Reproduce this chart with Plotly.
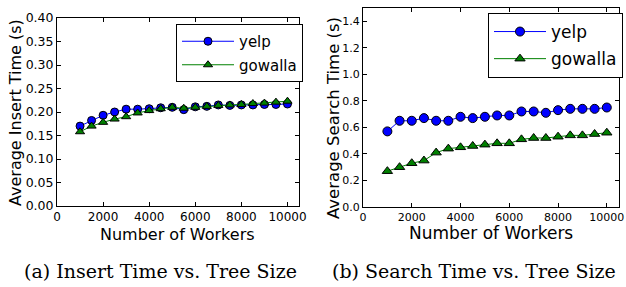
import plotly.graph_objects as go

workers = [1000, 1500, 2000, 2500, 3000, 3500, 4000, 4500, 5000, 5500,
           6000, 6500, 7000, 7500, 8000, 8500, 9000, 9500, 10000]

insert_yelp = [0.170, 0.182, 0.193, 0.200, 0.206, 0.206, 0.207, 0.209, 0.210, 0.205,
               0.211, 0.212, 0.215, 0.214, 0.215, 0.215, 0.216, 0.216, 0.217]
insert_gowalla = [0.158, 0.170, 0.178, 0.185, 0.190, 0.198, 0.203, 0.207, 0.210, 0.208,
                  0.210, 0.212, 0.214, 0.215, 0.216, 0.218, 0.219, 0.221, 0.223]

search_yelp = [0.57, 0.65, 0.65, 0.67, 0.65, 0.65, 0.68, 0.67, 0.68, 0.69,
               0.69, 0.72, 0.72, 0.71, 0.73, 0.74, 0.74, 0.74, 0.75]
search_gowalla = [0.27, 0.30, 0.33, 0.35, 0.41, 0.44, 0.45, 0.46, 0.47, 0.48,
                  0.48, 0.51, 0.52, 0.52, 0.53, 0.54, 0.54, 0.55, 0.56]

x_ticks = [0, 2000, 4000, 6000, 8000, 10000]
insert_ticks = [0.00, 0.05, 0.10, 0.15, 0.20, 0.25, 0.30, 0.35, 0.40]
search_ticks = [0.0, 0.2, 0.4, 0.6, 0.8, 1.0, 1.2, 1.4]
x_title = "Number of Workers"
y_titles = ["Average Insert Time (s)", "Average Search Time (s)"]
captions = ["(a) Insert Time vs. Tree Size", "(b) Search Time vs. Tree Size"]

BLUE = "#0000ff"
GREEN = "#008000"
FONT = "DejaVu Sans"

W, H = 626, 287


def fx(p):
    return p / W


def fy(p):
    return 1 - p / H


fig = go.Figure()


def add_series(x, y, name, color, symbol, xa, ya, legend, size):
    fig.add_trace(go.Scatter(
        x=x, y=y, name=name, mode="lines+markers",
        line=dict(color=color, width=1),
        marker=dict(symbol=symbol, size=size, color=color,
                    line=dict(color="black", width=1)),
        xaxis=xa, yaxis=ya, legend=legend, legendgroup=legend + name))


add_series(workers, insert_yelp, "yelp", BLUE, "circle", "x", "y", "legend", 8)
add_series(workers, insert_gowalla, "gowalla", GREEN, "triangle-up", "x", "y", "legend", 8)
add_series(workers, search_yelp, "yelp", BLUE, "circle", "x2", "y2", "legend2", 9)
add_series(workers, search_gowalla, "gowalla", GREEN, "triangle-up", "x2", "y2", "legend2", 9)

axis_common = dict(showline=True, linecolor="black", linewidth=1, mirror="ticks",
                   ticks="inside", ticklen=4, tickcolor="black", showgrid=False,
                   zeroline=False, automargin=False)

fig.update_layout(
    width=W, height=H,
    margin=dict(l=0, r=0, t=0, b=0, autoexpand=False),
    paper_bgcolor="white", plot_bgcolor="white",
    font=dict(family=FONT, color="black"),
    xaxis=dict(domain=[fx(57), fx(299)], range=[0, 10500], tickvals=x_ticks,
               ticktext=[str(v) for v in x_ticks], anchor="y",
               tickfont=dict(size=12), **axis_common),
    yaxis=dict(domain=[fy(206), fy(18)], range=[0, 0.40], tickvals=insert_ticks,
               ticktext=[f"{v:.2f}" for v in insert_ticks], anchor="x",
               tickfont=dict(size=12.5), **axis_common),
    xaxis2=dict(domain=[fx(363), fx(619)], range=[0, 10500], tickvals=x_ticks,
                ticktext=[str(v) for v in x_ticks], anchor="y2",
                tickfont=dict(size=11), **axis_common),
    yaxis2=dict(domain=[fy(207), fy(8)], range=[0, 1.5], tickvals=search_ticks,
                ticktext=[f"{v:.1f}" for v in search_ticks], anchor="x2",
                tickfont=dict(size=11), **axis_common),
    legend=dict(x=fx(303), y=fy(24), xanchor="right", yanchor="top",
                bgcolor="white", bordercolor="black", borderwidth=1,
                font=dict(size=15), itemwidth=52, tracegroupgap=1),
    legend2=dict(x=fx(623), y=fy(13), xanchor="right", yanchor="top",
                 bgcolor="white", bordercolor="black", borderwidth=1,
                 font=dict(size=17), itemwidth=52, tracegroupgap=2),
)


def label(text, px, py, size, family=FONT, angle=0):
    fig.add_annotation(text=text, x=fx(px), y=fy(py), xref="paper", yref="paper",
                       xanchor="center", yanchor="middle", showarrow=False,
                       textangle=angle, font=dict(family=family, size=size))


label(x_title, 178, 234, 16)
label(x_title, 491, 233, 17)
label(y_titles[0], 15, 113, 16, angle=-90)
label(y_titles[1], 334, 118, 16.5, angle=-90)
label(captions[0], 160, 271, 19, family="DejaVu Serif")
label(captions[1], 474, 271, 19, family="DejaVu Serif")

fig.write_html(
    "out.html",
    config={"displayModeBar": False},
    post_script="document.body.style.margin='0';document.body.style.overflow='hidden';",
)
